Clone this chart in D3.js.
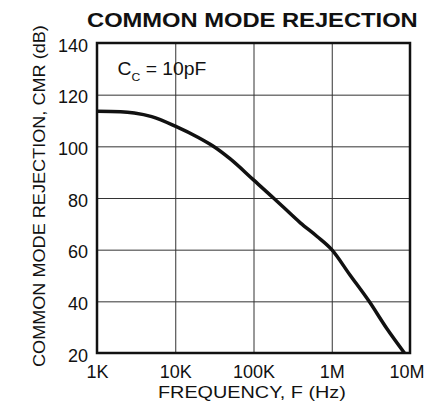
<!DOCTYPE html>
<html><head><meta charset="utf-8">
<script src="https://cdn.jsdelivr.net/npm/d3@7"></script>
<style>
html,body{margin:0;padding:0;background:#fff;}
svg{display:block;font-family:"Liberation Sans",Arial,Helvetica,sans-serif;}
</style></head>
<body>
<script>
const freqHz = [1e3, 2e3, 3e3, 5e3, 1e4, 2e4, 3e4, 5e4, 1e5, 1.8e5, 2.4e5, 4e5, 6.5e5, 1e6, 1.7e6, 3e6, 5e6, 8.5e6];
const cmrDb  = [113.6, 113.4, 112.9, 111.5, 107.8, 103.3, 100.2, 95.2, 87, 80, 76.5, 70.3, 65.1, 60, 50.3, 40, 29.7, 20];
const xTickValues = [1e3, 1e4, 1e5, 1e6, 1e7];
const xTickLabels = ["1K", "10K", "100K", "1M", "10M"];
const yTickValues = [20, 40, 60, 80, 100, 120, 140];
const yTickLabels = ["20", "40", "60", "80", "100", "120", "140"];

const W = 425, H = 408;
const L = 97, R = 410, T = 43, B = 353;
const svg = d3.select("body").append("svg").attr("width", W).attr("height", H);

const x = d3.scaleLog().domain([1e3, 1e7]).range([L, R]);
const y = d3.scaleLinear().domain([20, 140]).range([B, T]);

// stretch a text horizontally (glyphs, not spacing) to a target width, starting at x0
function fitText(sel, x0, yb, target, rotate) {
  const w = sel.node().getComputedTextLength();
  const s = target / w;
  if (rotate) sel.attr("transform", `translate(${x0},${yb}) rotate(-90) scale(${s},1)`);
  else sel.attr("transform", `translate(${x0},${yb}) scale(${s},1)`);
}

// grid + ticks
const gx = svg.append("g").attr("transform", `translate(0,${B})`)
  .call(d3.axisBottom(x).tickValues(xTickValues).tickSize(-(B - T)).tickSizeOuter(0)
    .tickFormat((d, i) => xTickLabels[i]));
gx.select(".domain").remove();
gx.selectAll("line").attr("stroke", "#333").attr("stroke-width", 1);
gx.selectAll("text").attr("font-size", 18).attr("fill", "#111")
  .attr("font-family", "Liberation Sans, Arial, sans-serif").attr("y", 25).attr("dy", null);
gx.selectAll(".tick").filter((d, i) => i === xTickValues.length - 1).select("text")
  .attr("text-anchor", "end").attr("x", 14);

const gy = svg.append("g").attr("transform", `translate(${L},0)`)
  .call(d3.axisLeft(y).tickValues(yTickValues).tickSize(-(R - L)).tickSizeOuter(0)
    .tickFormat((d, i) => yTickLabels[i]));
gy.select(".domain").remove();
gy.selectAll("line").attr("stroke", "#333").attr("stroke-width", 1);
gy.selectAll("text").attr("font-size", 18).attr("fill", "#111")
  .attr("font-family", "Liberation Sans, Arial, sans-serif").attr("x", -9).attr("dy", "0.45em");

// frame
svg.append("rect").attr("x", L).attr("y", T).attr("width", R - L).attr("height", B - T)
  .attr("fill", "none").attr("stroke", "#111").attr("stroke-width", 2.5);

// curve
const line = d3.line().x((d, i) => x(freqHz[i])).y((d, i) => y(cmrDb[i])).curve(d3.curveMonotoneX);
svg.append("path").datum(cmrDb).attr("d", line)
  .attr("fill", "none").attr("stroke", "#111").attr("stroke-width", 3.5).attr("stroke-linejoin", "round");

// title
const title = svg.append("text")
  .attr("font-size", 21).attr("font-weight", "bold").attr("fill", "#111")
  .text("COMMON MODE REJECTION");
fitText(title, 87, 27, 331, false);

// annotation
const ann = svg.append("text").attr("font-size", 17.5).attr("fill", "#111");
ann.append("tspan").text("C");
ann.append("tspan").attr("font-size", 11).attr("dy", 6).text("C");
ann.append("tspan").attr("dy", -6).text(" = 10pF");
fitText(ann, 117.5, 75, 89, false);

// axis titles
const xt = svg.append("text").attr("font-size", 16.5).attr("fill", "#111").text("FREQUENCY, F (Hz)");
fitText(xt, 158, 398, 188, false);
const yt = svg.append("text").attr("font-size", 16.5).attr("fill", "#111").text("COMMON MODE REJECTION, CMR (dB)");
fitText(yt, 45, 367, 342, true);
</script>
</body></html>
